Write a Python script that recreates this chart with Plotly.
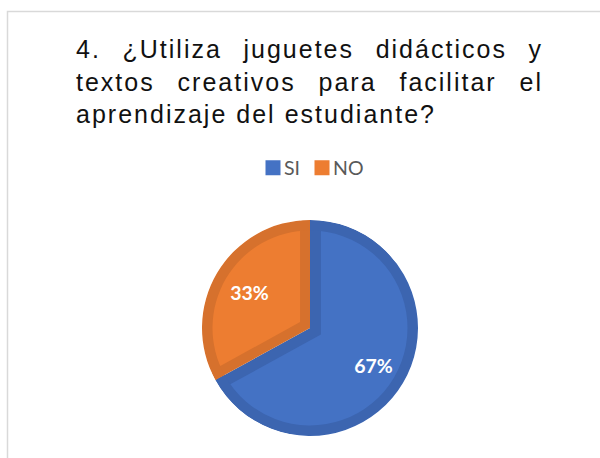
import math
import plotly.graph_objects as go

# ---- data ----
categories = ["SI", "NO"]
values = [67, 33]
title_lines = ["4. ¿Utiliza juguetes didácticos y",
               "textos creativos para facilitar el",
               "aprendizaje del estudiante?"]

# ---- style ----
light = ["#4472C4", "#ED7D31"]
dark = ["#3C65B0", "#D6712D"]
W, H = 600, 458
CX, CY = 310.0, 328.0      # pie centre (px)
R = 108.0                  # outer radius (px)
BAND = 10.5                # outer rim band
EDGE = [11.0, 10.0]        # inner radial band for SI / NO


def dom(r, pull=0.0):
    half = r * (1 + pull)
    return dict(x=[max(0, (CX - half) / W), min(1, (CX + half) / W)],
                y=[max(0, 1 - (CY + half) / H), min(1, 1 - (CY - half) / H)])


common = dict(labels=categories, values=values, sort=False,
              direction="clockwise", rotation=0, hoverinfo="skip",
              textinfo="none", showlegend=False)

fig = go.Figure()
# base: darker full pie (gives radial bands)
fig.add_trace(go.Pie(**common, domain=dom(R),
                     marker=dict(colors=dark, line=dict(width=0))))
# lighter slices, each inset along its bisector
rl = 104.0
shifts = [EDGE[0] / math.sin(math.radians(120)), EDGE[1] / math.sin(math.radians(60))]
pulls = [s / rl for s in shifts]
c2 = dict(common)
c2["showlegend"] = True
fig.add_trace(go.Pie(**c2, domain=dom(rl, max(pulls)), pull=pulls,
                     marker=dict(colors=light, line=dict(width=0))))
# darker outer rim
fig.add_trace(go.Pie(**common, domain=dom(R), hole=(R - BAND) / R,
                     marker=dict(colors=dark, line=dict(width=0))))
# white mask outside the pie
RW = 122.0
fig.add_trace(go.Pie(**common, domain=dom(RW), hole=R / RW,
                     marker=dict(colors=["#FFFFFF", "#FFFFFF"], line=dict(width=0))))
# labels
c5 = dict(common)
c5["textinfo"] = "percent"
RT = 130.0
fig.add_trace(go.Pie(**c5, domain=dom(RT), pull=[0.155, 0.087],
                     marker=dict(colors=["rgba(0,0,0,0)", "rgba(0,0,0,0)"], line=dict(width=0)),
                     textposition="inside", insidetextorientation="horizontal",
                     textfont=dict(family="Lato", size=19.5, color="#FFFFFF", weight="bold")))

fig.update_layout(
    width=W, height=H,
    margin=dict(l=0, r=0, t=0, b=0),
    paper_bgcolor="#FFFFFF", plot_bgcolor="#FFFFFF",
    title=dict(text="<br>".join(title_lines),
               x=76 / W, xanchor="left", xref="paper",
               y=1 - 58 / H, yanchor="top", yref="container",
               font=dict(family="Liberation Sans", size=25, color="#111111")),
    legend=dict(orientation="h", x=253 / W, xanchor="left", y=1 - 168 / H,
                yanchor="middle",
                font=dict(family="Lato", size=19.5, color="#595959"),
                bgcolor="rgba(0,0,0,0)"),
    shapes=[dict(type="rect", xref="paper", yref="paper",
                 x0=7.5 / W, x1=1.05, y0=-0.05, y1=1 - 11.5 / H,
                 line=dict(color="#D9D9D9", width=1.5), layer="below")],
)

post = """
document.body.style.margin = '0';
var gd = document.getElementById('{plot_id}');
var t = gd.querySelector('text.gtitle');
if (t) {
  var lines = t.querySelectorAll('tspan.line');
  if (lines.length >= 3) {
    var w0 = [];
    for (var i = 0; i < lines.length; i++) { w0.push(lines[i].getComputedTextLength()); }
    var last = lines[lines.length - 1];
    var n = last.textContent.length;
    var ls = (358 - w0[lines.length - 1]) / (n - 1);
    t.style.letterSpacing = ls + 'px';
    for (var j = 0; j < lines.length - 1; j++) {
      var ln = lines[j];
      var txt = ln.textContent;
      var ns = (txt.match(/ /g) || []).length;
      var vis = w0[j] + (txt.length - 1) * ls;
      if (ns) { ln.style.wordSpacing = ((465 - vis) / ns) + 'px'; }
    }
  }
}
gd.querySelectorAll('.legendpoints path').forEach(function (p) {
  p.setAttribute('transform', (p.getAttribute('transform') || '') + ' scale(1.25)');
});
gd.querySelectorAll('text.legendtext').forEach(function (tx) {
  tx.setAttribute('x', '31');
});
var items = gd.querySelectorAll('.legend g.traces');
if (items.length >= 2) {
  var m = /translate\\(\\s*([-\\d.e]+)[ ,]+([-\\d.e]+)/.exec(items[0].getAttribute('transform') || '');
  if (m) {
    var x0 = parseFloat(m[1]), y0 = parseFloat(m[2]);
    items[1].setAttribute('transform', 'translate(' + (x0 + 49) + ',' + y0 + ')');
  }
}
"""

fig.write_html("out.html", post_script=post, config={"displayModeBar": False})
